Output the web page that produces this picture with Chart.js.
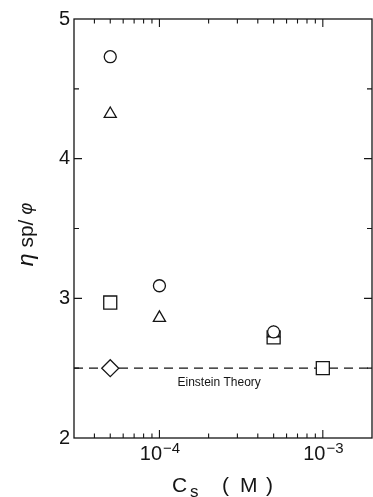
<!DOCTYPE html>
<html>
<head>
<meta charset="utf-8">
<script src="https://cdn.jsdelivr.net/npm/chart.js@4/dist/chart.umd.min.js"></script>
<style>
html, body { margin: 0; padding: 0; background: #fff; }
canvas { display: block; }
</style>
</head>
<body>
<canvas id="chart" width="373" height="497"></canvas>
<script>
// salt concentration Cs (M) vs reduced viscosity
const circleX = [5e-5, 1e-4, 5e-4];
const circleY = [4.73, 3.09, 2.76];
const triangleX = [5e-5, 1e-4, 5e-4];
const triangleY = [4.32, 2.86, 2.75];
const squareX = [5e-5, 5e-4, 1e-3];
const squareY = [2.97, 2.72, 2.5];
const diamondX = [5e-5];
const diamondY = [2.5];
const einsteinX = [3e-5, 2e-3];
const einsteinY = [2.5, 2.5];
const einsteinLabel = "Einstein Theory";
const einsteinLabelX = 2.32e-4;

const xMin = 3e-5;
const xMax = 2e-3;
const yMin = 2;
const yMax = 5;
const xMajor = [1e-4, 1e-3];
const xMajorExp = ["\u22124", "\u22123"];
const xMinor = [4e-5, 5e-5, 6e-5, 7e-5, 8e-5, 9e-5, 2e-4, 3e-4, 4e-4, 5e-4, 6e-4, 7e-4, 8e-4, 9e-4];
const yMajor = [3, 4];
const yMinor = [2.5, 3.5, 4.5];

const ink = "#151515";
const fam = '"Liberation Sans", Arial, Helvetica, sans-serif';

const pts = (xs, ys) => xs.map((x, i) => ({ x, y: ys[i] }));

function marker(label, xs, ys, style, r) {
  return {
    label,
    data: pts(xs, ys),
    pointStyle: style,
    pointRadius: r,
    pointBackgroundColor: "#fff",
    pointBorderColor: ink,
    pointBorderWidth: 1.3,
    showLine: false,
    clip: false,
  };
}

const frame = {
  id: "frame",
  afterDraw(chart) {
    const { ctx, chartArea: a, scales } = chart;
    const x = scales.x;
    const y = scales.y;
    ctx.save();
    ctx.strokeStyle = ink;
    ctx.lineWidth = 1.3;
    ctx.strokeRect(a.left, a.top, a.right - a.left, a.bottom - a.top);

    ctx.lineWidth = 1.1;
    ctx.beginPath();
    const vt = (px, len) => {
      ctx.moveTo(px, a.bottom); ctx.lineTo(px, a.bottom - len);
      ctx.moveTo(px, a.top); ctx.lineTo(px, a.top + len);
    };
    const ht = (py, len) => {
      ctx.moveTo(a.left, py); ctx.lineTo(a.left + len, py);
      ctx.moveTo(a.right, py); ctx.lineTo(a.right - len, py);
    };
    xMajor.forEach((v) => vt(x.getPixelForValue(v), 8));
    xMinor.forEach((v) => vt(x.getPixelForValue(v), 4.5));
    yMajor.forEach((v) => ht(y.getPixelForValue(v), 8));
    yMinor.forEach((v) => ht(y.getPixelForValue(v), 5));
    ctx.stroke();

    // x tick labels 10^n
    ctx.fillStyle = ink;
    ctx.textBaseline = "alphabetic";
    ctx.textAlign = "left";
    xMajor.forEach((v, i) => {
      ctx.font = "20px " + fam;
      const w1 = ctx.measureText("10").width;
      ctx.font = "15px " + fam;
      const w2 = ctx.measureText(xMajorExp[i]).width;
      const left = x.getPixelForValue(v) - (w1 + w2) / 2;
      ctx.font = "20px " + fam;
      ctx.fillText("10", left, 460);
      ctx.font = "15px " + fam;
      ctx.fillText(xMajorExp[i], left + w1 + 1, 453);
    });

    // x title: Cs ( M )
    const cx = (a.left + a.right) / 2;
    ctx.font = "21px " + fam;
    ctx.fillText("C", cx - 51, 492);
    ctx.font = "17px " + fam;
    ctx.fillText("s", cx - 33, 497);
    ctx.font = "21px " + fam;
    ctx.fillText("(", cx - 1, 492);
    ctx.fillText("M", cx + 17, 492);
    ctx.fillText(")", cx + 43, 492);

    // y title: eta sp / phi
    ctx.translate(33, (a.top + a.bottom) / 2 + 6);
    ctx.rotate(-Math.PI / 2);
    const parts = [
      ["italic 23px " + fam, "\u03b7", 0],
      ["21px " + fam, " sp/", 0],
      ["italic 18px " + fam, " \u03c6", -1],
    ];
    let total = 0;
    parts.forEach((p) => { ctx.font = p[0]; total += ctx.measureText(p[1]).width; });
    let px = -total / 2;
    parts.forEach((p) => {
      ctx.font = p[0];
      ctx.fillText(p[1], px, p[2]);
      px += ctx.measureText(p[1]).width;
    });
    ctx.setTransform(1, 0, 0, 1, 0, 0);

    // Einstein label
    ctx.font = "12px " + fam;
    ctx.textAlign = "center";
    ctx.fillText(einsteinLabel, x.getPixelForValue(einsteinLabelX), y.getPixelForValue(einsteinY[0]) + 18);
    ctx.restore();
  },
};

new Chart(document.getElementById("chart"), {
  type: "scatter",
  data: {
    datasets: [
      marker("circle", circleX, circleY, "circle", 6),
      marker("triangle", triangleX, triangleY, "triangle", 7),
      marker("square", squareX, squareY, "rect", 9.2),
      marker("diamond", diamondX, diamondY, "rectRot", 8.5),
      {
        label: "Einstein",
        data: pts(einsteinX, einsteinY),
        showLine: true,
        borderColor: ink,
        borderWidth: 1.2,
        borderDash: [9, 6],
        pointRadius: 0,
        clip: false,
      },
    ],
  },
  options: {
    responsive: false,
    animation: false,
    devicePixelRatio: 1,
    layout: { autoPadding: false, padding: { top: 19, right: 1, left: 0, bottom: 0 } },
    plugins: { legend: { display: false }, tooltip: { enabled: false } },
    scales: {
      x: {
        type: "logarithmic",
        min: xMin,
        max: xMax,
        grid: { display: false },
        border: { display: false },
        ticks: { display: false },
        afterFit(s) { s.height = 59; },
      },
      y: {
        min: yMin,
        max: yMax,
        grid: { display: false, drawTicks: false },
        border: { display: false },
        ticks: { stepSize: 1, padding: 4, color: ink, font: { size: 20, family: fam } },
        afterFit(s) { s.width = 74; },
      },
    },
  },
  plugins: [frame],
});
</script>
</body>
</html>
